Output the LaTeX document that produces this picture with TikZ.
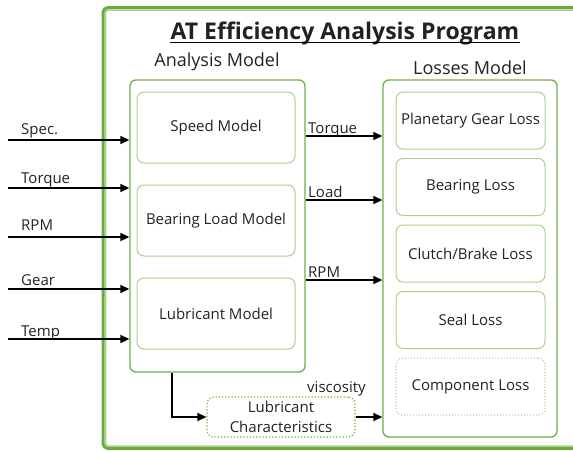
\documentclass[tikz,border=0pt]{standalone}
\usepackage{fontspec}
\setmainfont{Open Sans}
\usetikzlibrary{arrows.meta,positioning,calc}
\definecolor{framegreen}{HTML}{6AAB3E}
\definecolor{boxgreen}{HTML}{70AD47}
\definecolor{subgreen}{HTML}{A9D18E}
\definecolor{txt}{HTML}{222222}
\tikzset{
	block diagram/.style={
		x=1pt, y=-1pt,
		font=\fontsize{15}{20}\selectfont,
		text=txt,
		node distance=8.5pt and 10pt,
		ar/.style={draw=black, line width=1.4pt, -{Triangle[length=9pt,width=8pt]}},
		lbl/.style={inner sep=0pt, anchor=base west}},
	frame/.style={draw=framegreen, line width=3pt, rounded corners=5pt,
		minimum width=482pt, minimum height=441pt},
	frame inner/.style={draw=subgreen, line width=1.5pt, rounded corners=3pt},
	model/.style={draw=boxgreen, line width=1.3pt, rounded corners=6pt, inner sep=0pt},
	sub/.style={draw=subgreen, line width=1pt, rounded corners=7pt, align=center, inner sep=0pt},
	ana sub/.style={sub, minimum width=158pt, minimum height=71pt},
	loss sub/.style={sub, minimum width=149pt, minimum height=57pt},
	dotbox/.style={dotted, line width=1.2pt, rounded corners=7pt, align=center},
	heading/.style={font=\fontsize{18}{22}\selectfont, anchor=base, inner sep=0pt}
}

\begin{document}
\begin{tikzpicture}[block diagram]
   \useasboundingbox (0,0) rectangle (573,450);
   \node[frame] (frame) at (344,228) {};
   \draw[frame inner] ([shift={(4,4)}]frame.north west) rectangle ([shift={(-4,-4)}]frame.south east);
   \node[font=\fontsize{23}{27}\selectfont\bfseries, anchor=base, inner sep=0pt] (title) at (345,39) {AT Efficiency Analysis Program};
   \draw[line width=1.2pt] ($(title.base west)+(0,3.5)$) -- ($(title.base east)+(0,3.5)$);
   \node[heading] (anahead) at (217,66) {Analysis Model};
   \node[heading] (losshead) at (470,74) {Losses Model};

   % analysis model
   \node[model, minimum width=175pt, minimum height=292pt] (ana) at (217.5,226) {};
   \node[ana sub] (speed) at (216,127.5) {Speed Model};
   \node[ana sub, below=21pt of speed] (bload) {Bearing Load Model};
   \node[ana sub, below=21pt of bload] (lubm) {Lubricant Model};

   % losses model
   \node[model, minimum width=174pt, minimum height=357pt] (loss) at (470,258.5) {};
   \node[loss sub] (pgear) at (470.5,120.5) {Planetary Gear Loss};
   \node[loss sub, below=of pgear] (bloss) {Bearing Loss};
   \node[loss sub, below=of bloss] (cbloss) {Clutch/Brake Loss};
   \node[loss sub, below=of cbloss] (sloss) {Seal Loss};
   \node[loss sub, dotbox, draw=subgreen, below=of sloss] (closs) {Component Loss};

   \node[dotbox, draw=boxgreen, minimum width=148pt, minimum height=40pt, inner sep=0pt] (lubc) at (281,417) {Lubricant\\Characteristics};

   % inputs
   \foreach \y/\b/\t [count=\i] in {140/134/Spec., 188/183/Torque, 237/230/RPM, 289/285/Gear, 339/336/Temp} {
      \coordinate (in\i) at (8,\y);
      \draw[ar] (in\i) -- (in\i -| ana.west);
      \node[lbl] (inlbl\i) at (21,\b) {\t};
   }
   % analysis -> losses
   \foreach \y/\b/\t [count=\i] in {136/133/Torque, 200/197/Load, 280/277/RPM} {
      \coordinate (m\i) at (0,\y);
      \draw[ar] (ana.east |- m\i) -- (loss.west |- m\i);
      \node[lbl] (midlbl\i) at (308,\b) {\t};
   }
   \coordinate (tap) at (172,0);
   \draw[ar] (ana.south -| tap) |- (lubc.west);
   \draw[ar] (lubc.east) -- (lubc.east -| loss.west);
   \node[lbl] (visc) at (307,392) {viscosity};
\end{tikzpicture}
\end{document}
